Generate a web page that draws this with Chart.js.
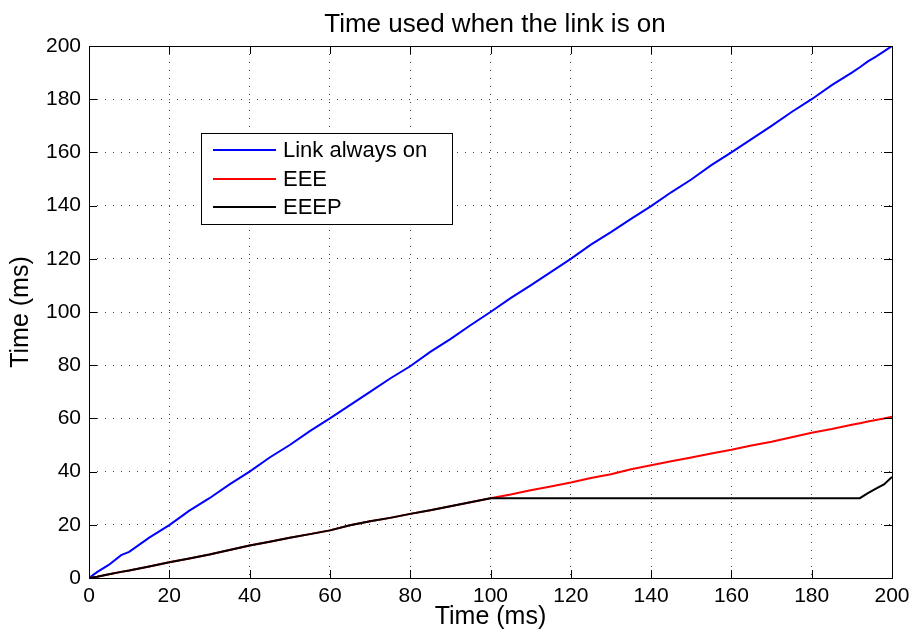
<!DOCTYPE html>
<html>
<head>
<meta charset="utf-8">
<script src="https://cdn.jsdelivr.net/npm/chart.js@4.4.1/dist/chart.umd.min.js"></script>
<style>
html,body{margin:0;padding:0;background:#fff;}
#wrap{width:916px;height:640px;position:relative;}
</style>
</head>
<body>
<div id="wrap"><canvas id="c" width="916" height="640"></canvas></div>
<script>
const chartTitle = "Time used when the link is on";
const xAxisTitle = "Time (ms)";
const yAxisTitle = "Time (ms)";
const seriesNames = ["Link always on", "EEE", "EEEP"];
const seriesColors = ["#0000ff", "#ff0000", "#000000"];
const drawOrder = [2, 1, 0];
const xTicks = [0,20,40,60,80,100,120,140,160,180,200];
const yTicks = [0,20,40,60,80,100,120,140,160,180,200];

const times = [0,2,5,8,10,15,20,25,30,35,40,45,50,55,60,65,70,75,80,85,90,95,100,105,110,115,120,125,130,135,140,145,150,155,160,165,170,175,180,185,190,192,194,196,198,200];
const linkAlwaysOn = [0,2.2,5,8.6,9.8,15.2,19.9,25.3,30,35.2,40,45.3,50,55.2,60,65,70,75,79.6,85,89.8,95,100,105.2,110,115,120,125.3,130,135,139.8,145,149.8,155.2,160,165,170,175.2,180,185.3,190,192,194.2,196,198,200];
const eee = [0,0.5,1.4,2.3,2.8,4.3,5.9,7.3,8.8,10.5,12.2,13.6,15.1,16.5,17.9,19.8,21.3,22.6,24.1,25.5,27,28.5,30,31.4,33,34.4,35.9,37.6,39,40.9,42.4,43.9,45.3,46.8,48.2,49.8,51.2,52.9,54.6,56,57.6,58.2,58.8,59.4,60,60.6];
const eeep = [0,0.5,1.4,2.3,2.8,4.3,5.9,7.3,8.8,10.5,12.2,13.6,15.1,16.5,17.9,19.8,21.3,22.6,24.1,25.5,27,28.5,30,30,30,30,30,30,30,30,30,30,30,30,30,30,30,30,30,30,30,30,31.9,33.6,35.2,38];

const seriesValues = [linkAlwaysOn, eee, eeep];
const FONT = "'Liberation Sans', Arial, Helvetica, sans-serif";

function toPoints(ys){ return times.map((t,i)=>({x:t,y:ys[i]})); }

const frameAndLegend = {
  id: 'frameAndLegend',
  afterDraw(chart){
    const ctx = chart.ctx;
    const a = chart.chartArea;
    const xs = chart.scales.x, ys = chart.scales.y;
    ctx.save();
    // title
    ctx.fillStyle = '#000';
    ctx.font = "26px " + FONT;
    ctx.textAlign = 'center';
    ctx.textBaseline = 'alphabetic';
    ctx.fillText(chartTitle, 495, 32);
    ctx.strokeStyle = '#000';
    ctx.lineWidth = 1;
    // inward ticks
    const tl = 8;
    ctx.beginPath();
    xTicks.forEach(v=>{
      const px = Math.round(xs.getPixelForValue(v))+0.5;
      ctx.moveTo(px, a.bottom); ctx.lineTo(px, a.bottom - tl);
      ctx.moveTo(px, a.top); ctx.lineTo(px, a.top + tl);
    });
    yTicks.forEach(v=>{
      const py = Math.round(ys.getPixelForValue(v))+0.5;
      ctx.moveTo(a.left, py); ctx.lineTo(a.left + tl, py);
      ctx.moveTo(a.right, py); ctx.lineTo(a.right - tl, py);
    });
    ctx.stroke();
    // frame
    ctx.strokeRect(Math.round(a.left)+0.5, Math.round(a.top)+0.5, Math.round(a.right-a.left), Math.round(a.bottom-a.top));
    // legend box
    const lx = a.left + 112, ly = a.top + 87, lw = 251, lh = 91;
    ctx.fillStyle = '#fff';
    ctx.fillRect(lx, ly, lw, lh);
    ctx.strokeRect(lx+0.5, ly+0.5, lw, lh);
    ctx.font = "22px " + FONT;
    ctx.textBaseline = 'middle';
    ctx.textAlign = 'left';
    const rows = [17, 46, 74];
    chart.data.datasets.forEach((ds,i)=>{
      const ry = ly + rows[i];
      ctx.strokeStyle = ds.borderColor;
      ctx.lineWidth = 2;
      ctx.beginPath();
      ctx.moveTo(lx+12, ry); ctx.lineTo(lx+75, ry);
      ctx.stroke();
      ctx.fillStyle = '#000';
      ctx.fillText(ds.label, lx+82, ry+1);
    });
    ctx.restore();
  }
};

new Chart(document.getElementById('c'), {
  type: 'line',
  data: {
    datasets: seriesNames.map((n,i)=>({
      label: n,
      data: toPoints(seriesValues[i]),
      borderColor: seriesColors[i],
      backgroundColor: seriesColors[i],
      borderWidth: 2,
      pointRadius: 0,
      tension: 0,
      fill: false,
      order: drawOrder[i]
    }))
  },
  options: {
    responsive: false,
    animation: false,
    events: [],
    layout: { padding: { top: 46, right: 24, left: 0, bottom: 0 } },
    plugins: {
      legend: { display: false },
      tooltip: { enabled: false },
      title: { display: false }
    },
    scales: {
      x: {
        type: 'linear',
        min: 0, max: 200,
        afterBuildTicks(s){ s.ticks = xTicks.map(v=>({value:v})); },
        afterFit(s){ s.height = 62; },
        grid: { color: '#444', lineWidth: 1, drawTicks: false },
        border: { display: false, dash: [1,7] },
        ticks: { color: '#000', font: { family: FONT, size: 21 }, padding: 6, maxRotation: 0, autoSkip: false },
        title: { display: true, text: xAxisTitle, color: '#000', font: { family: FONT, size: 25 }, padding: { top: 0, bottom: 8 } }
      },
      y: {
        type: 'linear',
        min: 0, max: 200,
        afterBuildTicks(s){ s.ticks = yTicks.map(v=>({value:v})); },
        afterFit(s){ s.width = 89; },
        grid: { color: '#444', lineWidth: 1, drawTicks: false },
        border: { display: false, dash: [1,7] },
        ticks: { color: '#000', font: { family: FONT, size: 21 }, padding: 8, autoSkip: false },
        title: { display: true, text: yAxisTitle, color: '#000', font: { family: FONT, size: 25 }, padding: { top: 6, bottom: 0 } }
      }
    }
  },
  plugins: [frameAndLegend]
});
</script>
</body>
</html>
